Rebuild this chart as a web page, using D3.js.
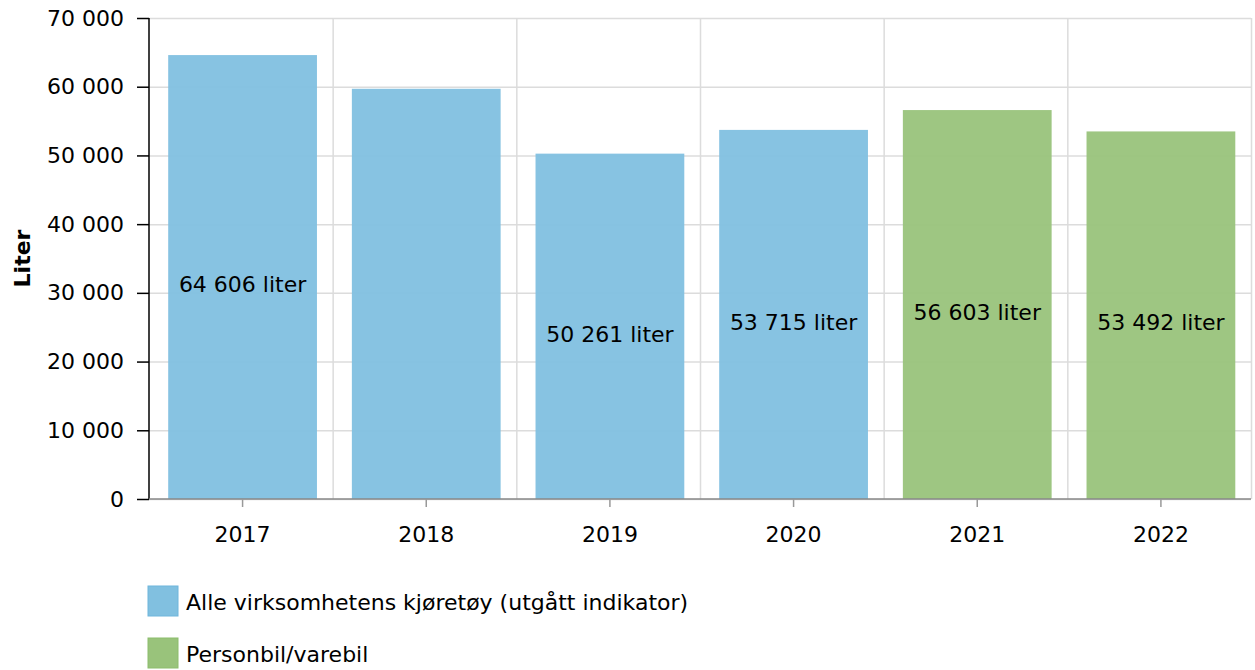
<!DOCTYPE html>
<html lang="no">
<head>
	<meta charset="utf-8" />
	<title>Liter</title>
	<script type="text/javascript" src="https://d3js.org/d3.v7.min.js"></script>
	<style>
		body { margin: 0; background: #fff; font-family: "DejaVu Sans", Verdana, sans-serif; }
		.grid line { stroke: #dcdcdc; stroke-width: 1.5; }
		.grid path { display: none; }
	</style>
</head>
<body>
<div id="content"></div>
<script type="text/javascript">

	// data
	var years = ["2017", "2018", "2019", "2020", "2021", "2022"];
	var values = [64606, 59700, 50261, 53715, 56603, 53492];
	var labels = ["64 606 liter", null, "50 261 liter", "53 715 liter", "56 603 liter", "53 492 liter"];
	var seriesOf = [0, 0, 0, 0, 1, 1];
	var seriesNames = ["Alle virksomhetens kjøretøy (utgått indikator)", "Personbil/varebil"];
	var seriesColors = ["#81c0e0", "#99c37b"];
	var yTicks = [0, 10000, 20000, 30000, 40000, 50000, 60000, 70000];

	var W = 1255, H = 670;
	var margin = {top: 18, right: 4, bottom: 171, left: 149};
	var width = W - margin.left - margin.right,
		height = H - margin.top - margin.bottom;

	var FS = 22;

	var svg = d3.select("#content")
		.append("svg")
		.attr("width", W)
		.attr("height", H);

	var g = svg.append("g")
		.attr("transform", "translate(" + margin.left + "," + margin.top + ")");

	var x = d3.scaleBand().domain(years).range([0, width])
		.paddingInner(0.19).paddingOuter(0.095).align(0.55);
	var xGrid = d3.scaleLinear().domain([0, years.length]).range([0, width]);
	var y = d3.scaleLinear().domain([0, 70000]).range([height, 0]);

	var fmt = function(v) { return d3.format(",")(v).replace(/,/g, " "); };

	// horizontal grid
	g.append("g").attr("class", "grid")
		.call(d3.axisLeft(y).tickValues(yTicks).tickSize(-width).tickFormat(""));

	// vertical grid at band edges
	g.append("g").attr("class", "grid")
		.attr("transform", "translate(0," + height + ")")
		.call(d3.axisBottom(xGrid).tickValues(d3.range(1, years.length + 1)).tickSize(-height).tickFormat(""));

	var data = years.map(function(d, i) {
		return {year: d, value: values[i], label: labels[i], s: seriesOf[i]};
	});

	// bars
	g.selectAll(".bar")
		.data(data)
		.enter().append("rect")
		.attr("class", "bar")
		.attr("x", function(d) { return x(d.year); })
		.attr("width", x.bandwidth())
		.attr("y", function(d) { return y(d.value); })
		.attr("height", function(d) { return height - y(d.value); })
		.attr("fill", function(d) { return seriesColors[d.s]; })
		.attr("fill-opacity", 0.95);

	// labels in bars
	g.selectAll(".lbl")
		.data(data.filter(function(d) { return d.label; }))
		.enter().append("text")
		.attr("class", "lbl")
		.attr("x", function(d) { return x(d.year) + x.bandwidth() / 2; })
		.attr("y", function(d) { return (y(d.value) + height) / 2 + 7.5; })
		.attr("dy", "0.35em")
		.attr("text-anchor", "middle")
		.attr("font-size", FS)
		.attr("fill", "#000")
		.text(function(d) { return d.label; });

	// y axis
	var yAxis = g.append("g")
		.call(d3.axisLeft(y).tickValues(yTicks).tickSize(12).tickPadding(13).tickFormat(fmt));
	yAxis.select(".domain").attr("stroke", "#000").attr("stroke-width", 1.5).attr("d", "M0," + height + "V0");
	yAxis.selectAll(".tick line").attr("stroke", "#000").attr("stroke-width", 1.5);
	yAxis.selectAll(".tick text").attr("font-size", FS).attr("font-family", "DejaVu Sans, Verdana, sans-serif").attr("fill", "#000");

	// x axis
	var xAxis = g.append("g")
		.attr("transform", "translate(0," + height + ")")
		.call(d3.axisBottom(x).tickSize(8).tickPadding(19));
	xAxis.select(".domain").attr("stroke", "#888").attr("stroke-width", 1.5).attr("d", "M0,0H" + width);
	xAxis.selectAll(".tick line").attr("stroke", "#999").attr("stroke-width", 1.5);
	xAxis.selectAll(".tick text").attr("font-size", FS).attr("font-family", "DejaVu Sans, Verdana, sans-serif").attr("fill", "#000");

	// y label
	svg.append("text")
		.attr("transform", "translate(30," + (margin.top + height / 2) + ") rotate(-90)")
		.attr("text-anchor", "middle")
		.attr("font-size", FS)
		.attr("font-weight", "bold")
		.text("Liter");

	// legend
	var legend = svg.append("g").attr("transform", "translate(148,586)");
	var item = legend.selectAll(".item")
		.data(seriesNames)
		.enter().append("g")
		.attr("transform", function(d, i) { return "translate(0," + (i * 52) + ")"; });
	item.append("rect")
		.attr("width", 30).attr("height", 30)
		.attr("fill", function(d, i) { return seriesColors[i]; })
		.attr("stroke", function(d, i) { return i === 0 ? "#6fb6dc" : "#8cbd6c"; })
		.attr("stroke-width", 1);
	item.append("text")
		.attr("x", 38).attr("y", 16).attr("dy", "0.35em")
		.attr("font-size", FS)
		.text(function(d) { return d; });

</script>
</body>
</html>
